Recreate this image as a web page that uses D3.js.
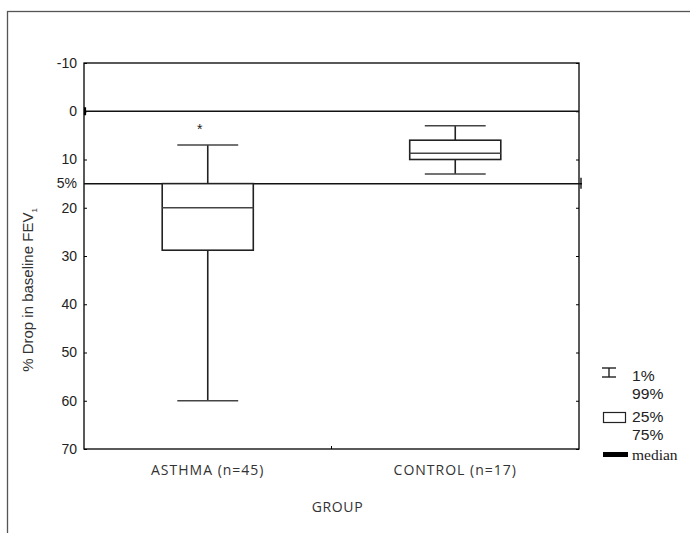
<!DOCTYPE html>
<html><head><meta charset="utf-8">
<script src="https://cdn.jsdelivr.net/npm/d3@7"></script>
<style>body{margin:0;background:#fff}svg{display:block}</style>
</head><body>
<script>
// ---- data ----
const categories = ["ASTHMA (n=45)", "CONTROL (n=17)"];
const p1 = [7, 3];        // 1% whisker end
const p25 = [15, 6];      // box top
const median = [20, 8.7];
const p75 = [28.8, 10];   // box bottom
const p99 = [60, 13];     // 99% whisker end
const outliers = [{cat: "ASTHMA (n=45)", value: 3.2}];
const yTicks = [-10, 0, 10, 20, 30, 40, 50, 60, 70];
const yTickLabels = ["-10", "0", "10", "20", "30", "40", "50", "60", "70"];
const refLines = [0, 15];
const refLabel = {value: 15, text: "5%"};
const legendItems = [["1%", "99%"], ["25%", "75%"], ["median"]];

const W = 690, H = 533;
const svg = d3.select("body").append("svg").attr("width", W).attr("height", H);

// outer frame
svg.append("rect").attr("x", 7.5).attr("y", 11.5).attr("width", 720).attr("height", 600)
  .attr("fill", "none").attr("stroke", "#555").attr("stroke-width", 1.3);

const L = 84, R = 579, T = 63, B = 449;
const y = d3.scaleLinear().domain([-10, 70]).range([T, B]);
const x = d3.scaleBand().domain(categories).range([L, R]).padding(0);
const cx = c => x(c) + x.bandwidth() / 2;
const boxW = x.bandwidth() * 0.368, capW = x.bandwidth() * 0.246;

const font = "'Liberation Sans', Arial, sans-serif";

// axes
const gL = svg.append("g").attr("transform", `translate(${L},0)`)
  .call(d3.axisLeft(y).tickValues(yTicks).tickFormat((d, i) => yTickLabels[i]).tickSizeInner(-3).tickSizeOuter(0).tickPadding(7));
const gR = svg.append("g").attr("transform", `translate(${R},0)`)
  .call(d3.axisRight(y).tickValues(yTicks).tickFormat("").tickSizeInner(-3).tickSizeOuter(0));
[gL, gR].forEach(g => {
  g.select(".domain").remove();
  g.selectAll("line").attr("stroke", "#000");
  g.selectAll("text").attr("font-family", font).attr("font-size", 14).attr("fill", "#222");
});
// ref label
svg.append("text").attr("x", L - 7).attr("y", y(refLabel.value)).attr("dy", "0.32em")
  .attr("text-anchor", "end").attr("font-family", font).attr("font-size", 14).attr("fill", "#222").text(refLabel.text);

// bottom center tick
svg.append("line").attr("x1", (L + R) / 2).attr("x2", (L + R) / 2).attr("y1", B).attr("y2", B - 3).attr("stroke", "#000");

// plot frame
svg.append("rect").attr("x", L).attr("y", T).attr("width", R - L).attr("height", B - T)
  .attr("fill", "none").attr("stroke", "#000").attr("stroke-width", 1.3);

// reference lines
refLines.forEach((v, i) => {
  svg.append("line").attr("x1", L).attr("x2", i === 0 ? R : R + 3).attr("y1", y(v)).attr("y2", y(v))
    .attr("stroke", "#111").attr("stroke-width", 1.5);
});
svg.append("line").attr("x1", L + 1).attr("x2", L + 1).attr("y1", y(0) - 4).attr("y2", y(0) + 4)
  .attr("stroke", "#000").attr("stroke-width", 2.2);
svg.append("line").attr("x1", R + 2).attr("x2", R + 2).attr("y1", y(15) - 6).attr("y2", y(15) + 5)
  .attr("stroke", "#000").attr("stroke-width", 1.3);

// boxes
const stroke = "#222";
categories.forEach((c, i) => {
  const g = svg.append("g");
  const xc = cx(c);
  g.append("line").attr("x1", xc).attr("x2", xc).attr("y1", y(p1[i])).attr("y2", y(p25[i])).attr("stroke", stroke).attr("stroke-width", 1.6);
  g.append("line").attr("x1", xc).attr("x2", xc).attr("y1", y(p75[i])).attr("y2", y(p99[i])).attr("stroke", stroke).attr("stroke-width", 1.6);
  [p1[i], p99[i]].forEach(v => g.append("line").attr("x1", xc - capW / 2).attr("x2", xc + capW / 2)
    .attr("y1", y(v)).attr("y2", y(v)).attr("stroke", "#444").attr("stroke-width", 1.6));
  g.append("rect").attr("x", xc - boxW / 2).attr("y", y(p25[i])).attr("width", boxW).attr("height", y(p75[i]) - y(p25[i]))
    .attr("fill", "#fff").attr("stroke", stroke).attr("stroke-width", 1.6);
  g.append("line").attr("x1", xc - boxW / 2).attr("x2", xc + boxW / 2).attr("y1", y(median[i])).attr("y2", y(median[i]))
    .attr("stroke", "#444").attr("stroke-width", 1.6);
});
outliers.forEach(o => {
  svg.append("text").attr("x", cx(o.cat) - 8).attr("y", y(o.value)).attr("dy", "0.55em")
    .attr("text-anchor", "middle").attr("font-family", font).attr("font-size", 14).attr("fill", "#222").text("*");
});

// category labels
const font2 = "'Open Sans', 'DejaVu Sans', sans-serif";
categories.forEach(c => {
  svg.append("text").attr("x", cx(c)).attr("y", 475).attr("text-anchor", "middle")
    .attr("font-family", font2).attr("font-size", 14).attr("letter-spacing", 1).attr("fill", "#333").text(c);
});
svg.append("text").attr("x", (L + R) / 2 + 6).attr("y", 512).attr("text-anchor", "middle")
  .attr("font-family", font2).attr("font-size", 14).attr("letter-spacing", 0.6).attr("fill", "#333").text("GROUP");

// y label
const yl = svg.append("text").attr("transform", "translate(33,290) rotate(-90)").attr("text-anchor", "middle")
  .attr("font-family", font).attr("font-size", 15).attr("fill", "#333");
yl.append("tspan").text("% Drop in baseline FEV");
yl.append("tspan").attr("font-size", 8).attr("dy", 4).text("1");

// legend
const lg = svg.append("g");
const lx = 602;
lg.append("line").attr("x1", lx).attr("x2", lx + 14).attr("y1", 368).attr("y2", 368).attr("stroke", "#222").attr("stroke-width", 1.4);
lg.append("line").attr("x1", lx).attr("x2", lx + 14).attr("y1", 377).attr("y2", 377).attr("stroke", "#222").attr("stroke-width", 1.4);
lg.append("line").attr("x1", lx + 7).attr("x2", lx + 7).attr("y1", 368).attr("y2", 377).attr("stroke", "#222").attr("stroke-width", 1.4);
lg.append("rect").attr("x", lx + 1.5).attr("y", 412.5).attr("width", 22).attr("height", 10).attr("fill", "#fff").attr("stroke", "#222").attr("stroke-width", 1.2);
lg.append("rect").attr("x", lx + 1).attr("y", 452).attr("width", 25).attr("height", 5).attr("fill", "#000");
const lt = [[legendItems[0][0], 376], [legendItems[0][1], 394], [legendItems[1][0], 417], [legendItems[1][1], 435]];
lt.forEach(([t, yy]) => lg.append("text").attr("transform", `translate(632,${yy}) scale(1.12,1)`).attr("dy", "0.36em")
  .attr("font-family", font).attr("font-size", 14).attr("fill", "#222").text(t));
lg.append("text").attr("x", 632).attr("y", 455).attr("dy", "0.32em").attr("font-family", "'Liberation Serif', 'Times New Roman', serif")
  .attr("font-size", 15.5).attr("fill", "#222").text(legendItems[2][0]);
</script>
</body></html>
